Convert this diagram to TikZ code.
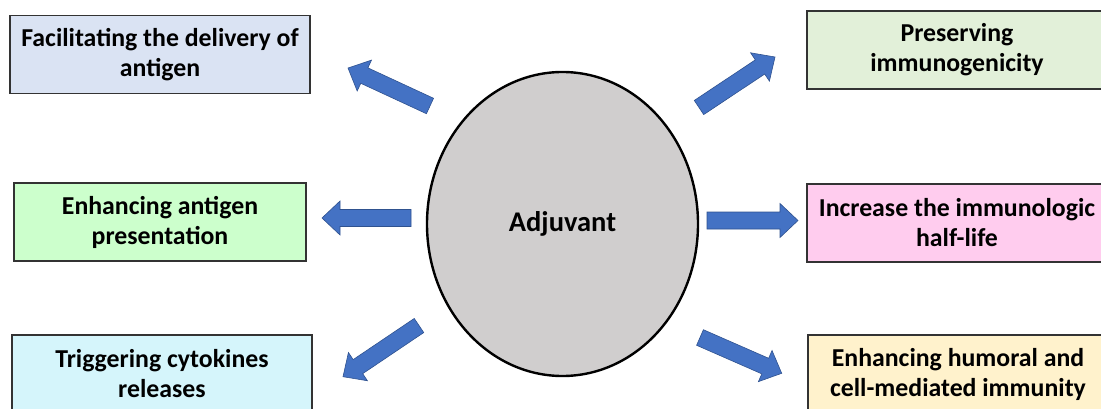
\documentclass[tikz,border=0pt]{standalone}
\usepackage{fontspec}
\setmainfont{Carlito}
\usetikzlibrary{calc,shapes.geometric}
\definecolor{arrowblue}{HTML}{4472C4}
\definecolor{arrowedge}{HTML}{2F528F}
\definecolor{fillA}{HTML}{DAE3F3}
\definecolor{fillB}{HTML}{E2F0D9}
\definecolor{fillC}{HTML}{CCFFCC}
\definecolor{fillD}{HTML}{FFCCEE}
\definecolor{fillE}{HTML}{D5F5FB}
\definecolor{fillF}{HTML}{FFF2CC}
\definecolor{ellfill}{HTML}{D0CECE}
\newcommand{\blockarr}[2]{%
  \coordinate (hb) at ($(#2)!18pt!(#1)$);
  \filldraw[blockarrow]
    ($(#1)!8.5pt!90:(#2)$) -- ($(hb)!8.5pt!-90:(#1)$) -- ($(hb)!17pt!-90:(#1)$) -- (#2)
    -- ($(hb)!17pt!90:(#1)$) -- ($(hb)!8.5pt!90:(#1)$) -- ($(#1)!8.5pt!-90:(#2)$) -- cycle;}
\begin{document}
\begin{tikzpicture}[x=1pt,y=-1pt,
  infobox/.style={draw=black!80, line width=1.2pt, minimum height=78pt, inner sep=0pt,
    align=center, font=\fontsize{25.8}{30}\selectfont\bfseries},
  blockarrow/.style={fill=arrowblue, draw=arrowedge, line width=0.6pt, line join=miter}]
\useasboundingbox (0,0) rectangle (1101,409);
\node[draw=black, line width=2.4pt, fill=ellfill, ellipse, minimum width=271pt, minimum height=304pt, inner sep=0pt,
  font=\fontsize{28.5}{32}\selectfont\bfseries] (adj) at (562.5,224) {Adjuvant};
\node[infobox, fill=fillA, minimum width=300pt] (b1) at (160,54.5) {Facilitating the delivery of\\antigen};
\node[infobox, fill=fillB, minimum width=300pt] (b2) at (957,50) {Preserving\\immunogenicity};
\node[infobox, fill=fillC, minimum width=292pt] (b3) at (160,222) {Enhancing antigen\\presentation};
\node[infobox, fill=fillD, minimum width=300pt] (b4) at (957,223) {Increase the immunologic\\half-life};
\node[infobox, fill=fillE, minimum width=300pt] (b5) at (162,374) {Triggering cytokines\\releases};
\node[infobox, fill=fillF, minimum width=300pt] (b6) at (958,374) {Enhancing humoral and\\cell-mediated immunity};
\coordinate (t1) at (430,106); \coordinate (h1) at (348,68);
\coordinate (t2) at (699,107.5); \coordinate (h2) at (775,57);
\coordinate (t3) at (411,218); \coordinate (h3) at (322,218);
\coordinate (t4) at (707,220.5); \coordinate (h4) at (798,220.5);
\coordinate (t5) at (419,325.5); \coordinate (h5) at (343,376.7);
\coordinate (t6) at (700,337.5); \coordinate (h6) at (781.7,373.3);
\blockarr{t1}{h1}
\blockarr{t2}{h2}
\blockarr{t3}{h3}
\blockarr{t4}{h4}
\blockarr{t5}{h5}
\blockarr{t6}{h6}
\end{tikzpicture}
\end{document}
